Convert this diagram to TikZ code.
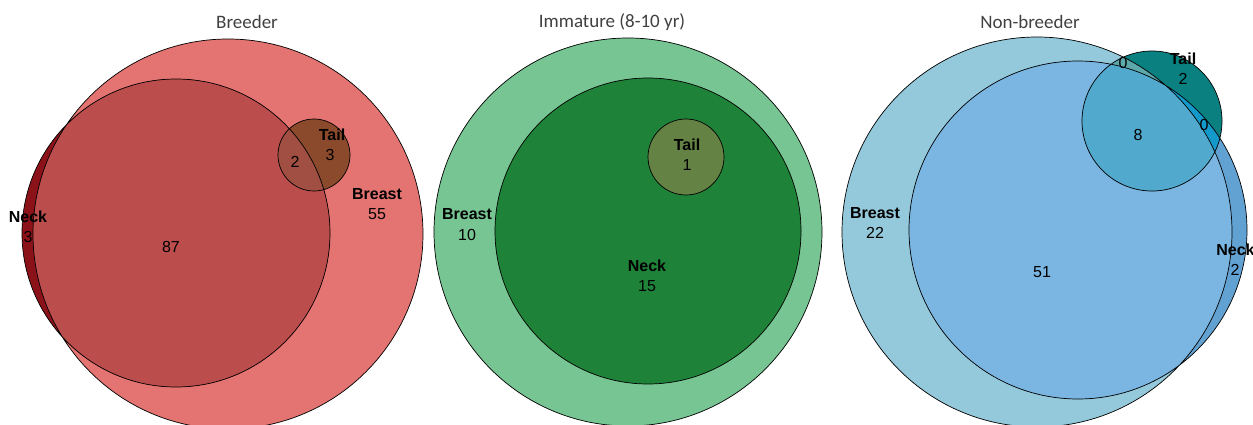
\documentclass[tikz,border=0pt]{standalone}
\usepackage{fontspec}
\setmainfont{Liberation Sans}
\newfontfamily\ttlfont{Carlito}

\definecolor{brBreast}{HTML}{E37471}
\definecolor{brNeck}{HTML}{8C1219}
\definecolor{brNeckIn}{HTML}{BB4D4C}
\definecolor{brTail}{HTML}{8A4A2B}
\definecolor{brTailIn}{HTML}{A04F42}
\definecolor{imBreast}{HTML}{77C592}
\definecolor{imNeck}{HTML}{1E8239}
\definecolor{imTail}{HTML}{648244}
\definecolor{nbBreast}{HTML}{94C9DB}
\definecolor{nbNeck}{HTML}{62A2D3}
\definecolor{nbNeckIn}{HTML}{7AB6E1}
\definecolor{nbTail}{HTML}{0B8080}
\definecolor{nbTailBr}{HTML}{5CA8AA}
\definecolor{nbTailNk}{HTML}{139ACB}
\definecolor{nbTailIn}{HTML}{51AACD}

\begin{document}
\begin{tikzpicture}[x=1pt, y=-1pt, line width=0.7pt,
    every node/.style={font=\fontsize{16}{16}\selectfont, inner sep=0pt},
    setname/.style={font=\fontsize{16}{16}\selectfont\bfseries},
    ttl/.style={font=\fontsize{19}{19}\selectfont\ttlfont, text=black!75}]
    \useasboundingbox (0,0) rectangle (1253,425);

    % Breeder
    \fill[brBreast] (228,234) circle (195pt);
    \fill[brNeck] (176,233) circle (154pt);
    \begin{scope}
        \clip (228,234) circle (195pt);
        \fill[brNeckIn] (176,233) circle (154pt);
    \end{scope}
    \fill[brTail] (314,155) circle (36pt);
    \begin{scope}
        \clip (176,233) circle (154pt);
        \fill[brTailIn] (314,155) circle (36pt);
    \end{scope}
    \draw (228,234) circle (195pt) (176,233) circle (154pt) (314,155) circle (36pt);

    \node[ttl] (brTitle) at (247,22) {Breeder};
    \node[setname] (brTailLab) at (332,135) {Tail};
    \node (brTailNum) at (330,155) {3};
    \node (brTwo) at (295,162) {2};
    \node[setname] (brBreastLab) at (377,194) {Breast};
    \node (brBreastNum) at (377,214) {55};
    \node[setname] (brNeckLab) at (28,217) {Neck};
    \node (brNeckNum) at (28,237) {3};
    \node (brMid) at (171,247) {87};

    % Immature
    \fill[imBreast] (628,232) circle (194pt);
    \fill[imNeck] (648,231) circle (153pt);
    \fill[imTail] (686,157) circle (38pt);
    \draw (628,232) circle (194pt) (648,231) circle (153pt) (686,157) circle (38pt);

    \node[ttl] (imTitle) at (612,22) {Immature (8-10 yr)};
    \node[setname] (imTailLab) at (687,145) {Tail};
    \node (imTailNum) at (687,165) {1};
    \node[setname] (imBreastLab) at (467,214) {Breast};
    \node (imBreastNum) at (467,235) {10};
    \node[setname] (imNeckLab) at (647,266) {Neck};
    \node (imNeckNum) at (647,286) {15};

    % Non-breeder
    \fill[nbBreast] (1037,232) circle (195pt);
    \fill[nbNeck] (1078,230) circle (169pt);
    \fill[nbTail] (1152,121) circle (70pt);
    \begin{scope}
        \clip (1037,232) circle (195pt);
        \fill[nbNeckIn] (1078,230) circle (169pt);
        \fill[nbTailBr] (1152,121) circle (70pt);
    \end{scope}
    \begin{scope}
        \clip (1078,230) circle (169pt);
        \fill[nbTailNk] (1152,121) circle (70pt);
        \clip (1037,232) circle (195pt);
        \fill[nbTailIn] (1152,121) circle (70pt);
    \end{scope}
    \draw (1037,232) circle (195pt) (1078,230) circle (169pt) (1152,121) circle (70pt);

    \node[ttl] (nbTitle) at (1030,22) {Non-breeder};
    \node[setname] (nbTailLab) at (1183,59) {Tail};
    \node (nbTailNum) at (1183,79) {2};
    \node (nbZeroTop) at (1123,63) {0};
    \node (nbZeroRight) at (1204,125) {0};
    \node (nbMid) at (1138,135) {8};
    \node[setname] (nbBreastLab) at (875,213) {Breast};
    \node (nbBreastNum) at (875,233) {22};
    \node[setname, anchor=west] (nbNeckLab) at (1216,250) {Neck};
    \node (nbNeckNum) at (1235,270) {2};
    \node (nbBig) at (1042,272) {51};
\end{tikzpicture}
\end{document}
